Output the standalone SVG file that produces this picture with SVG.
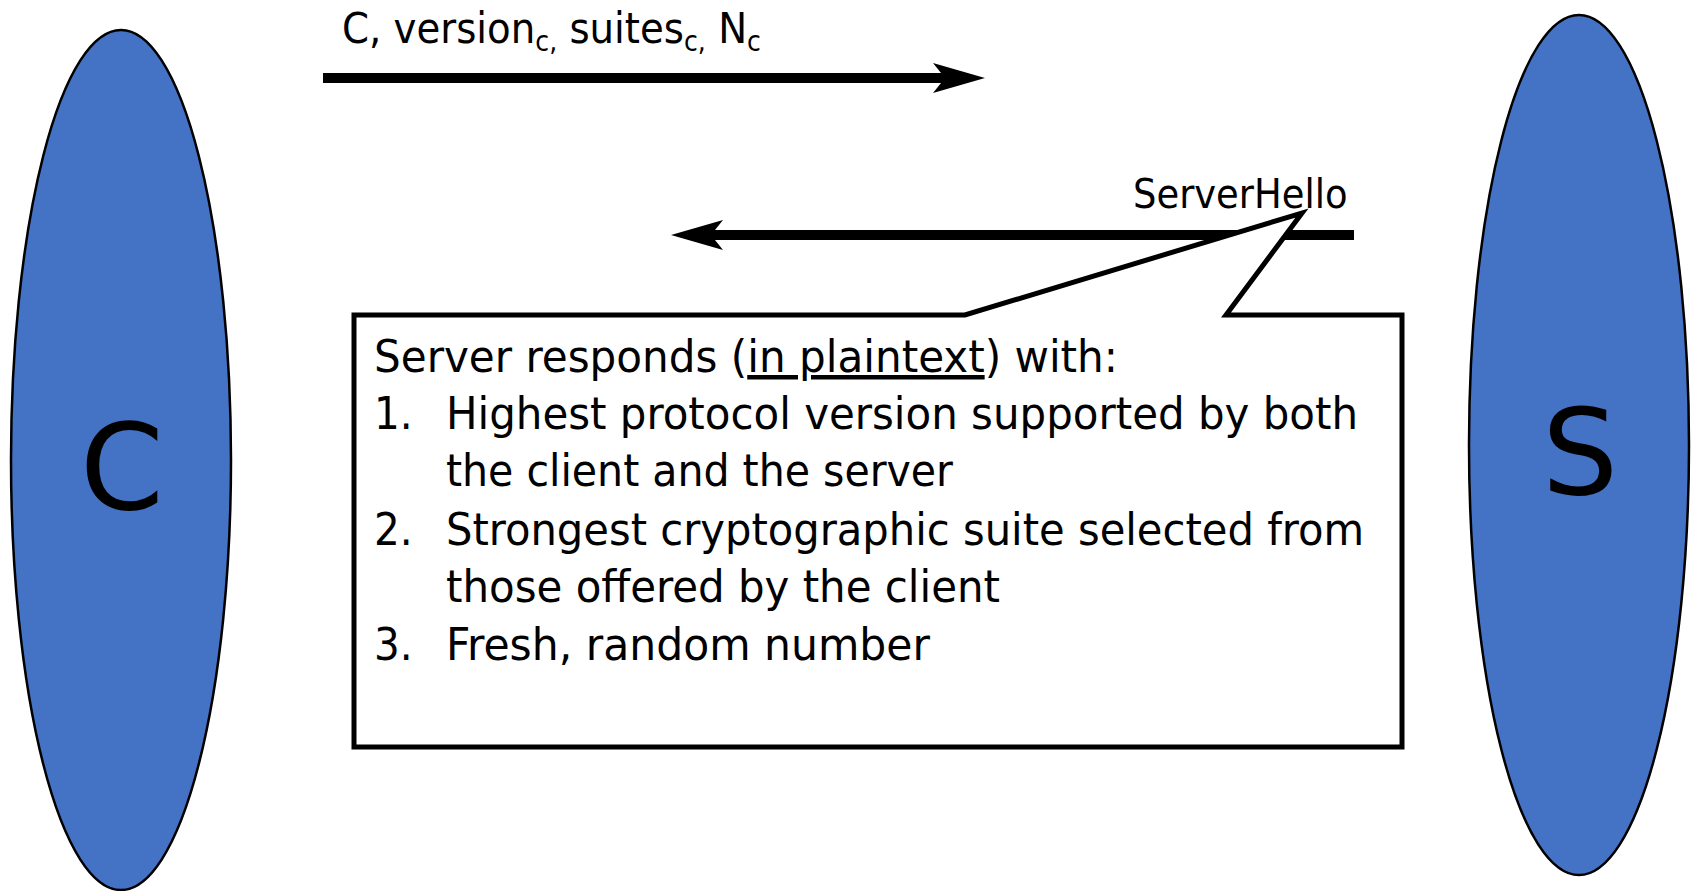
<svg xmlns="http://www.w3.org/2000/svg" width="1691" height="891" viewBox="0 0 1691 891">
  <style>
    .party { fill: #4472C4; stroke: #000; stroke-width: 2.5; }
    .party-label { font-family: "DejaVu Sans", "Liberation Sans", sans-serif; font-size: 120px; fill: #000; text-anchor: middle; }
    .msg { font-family: "DejaVu Sans", "Liberation Sans", sans-serif; font-stretch: condensed; font-size: 41px; fill: #000; }
    .msg-top { font-size: 43px; }
    .sub { font-size: 28px; }
    .flow { fill: none; stroke: #000; stroke-width: 10; }
    .callout { fill: #fff; stroke: #000; stroke-width: 5; stroke-linejoin: miter; }
    .note { font-family: "DejaVu Sans", "Liberation Sans", sans-serif; font-stretch: condensed; font-size: 45px; fill: #000; }
  </style>
  <defs>
    <marker id="head" viewBox="0 0 52 30" refX="16" refY="15" markerWidth="52" markerHeight="30" markerUnits="userSpaceOnUse" orient="auto">
      <path d="M0,0 L52,15 L0,30 L12,15 Z" fill="#000"/>
    </marker>
  </defs>

  <!-- client -->
  <g id="client">
    <ellipse class="party" cx="121" cy="460" rx="110" ry="430"/>
    <text class="party-label" x="122" y="509">C</text>
  </g>

  <!-- server -->
  <g id="server">
    <ellipse class="party" cx="1579" cy="445" rx="110" ry="430"/>
    <text class="party-label" x="1580" y="494">S</text>
  </g>

  <!-- messages -->
  <g id="connectors">
    <line class="flow" x1="323" y1="78" x2="949" y2="78" marker-end="url(#head)"/>
    <line class="flow" x1="1354" y1="235" x2="707" y2="235" marker-end="url(#head)"/>
  </g>

  <g id="client-hello-label">
    <text class="msg msg-top" x="342" y="43">C, version<tspan class="sub" dy="8">c,</tspan><tspan dy="-8"> suites</tspan><tspan class="sub" dy="8">c,</tspan><tspan dy="-8"> N</tspan><tspan class="sub" dy="8">c</tspan></text>
  </g>

  <g id="server-hello-label">
    <text class="msg" x="1133" y="208">ServerHello</text>
  </g>

  <!-- callout describing the ServerHello contents -->
  <g id="server-hello-note">
    <path class="callout" d="M354,315 L965,315 L1302,213 L1226,315 L1402,315 L1402,747 L354,747 Z"/>
    <text class="note" x="374" y="372" textLength="744" lengthAdjust="spacingAndGlyphs">Server responds (<tspan text-decoration="underline">in plaintext</tspan>) with:</text>
    <text class="note" x="374" y="429">1.</text>
    <text class="note" x="446" y="429" textLength="912" lengthAdjust="spacingAndGlyphs">Highest protocol version supported by both</text>
    <text class="note" x="446" y="486" textLength="507" lengthAdjust="spacingAndGlyphs">the client and the server</text>
    <text class="note" x="374" y="545">2.</text>
    <text class="note" x="446" y="545" textLength="918" lengthAdjust="spacingAndGlyphs">Strongest cryptographic suite selected from</text>
    <text class="note" x="446" y="602" textLength="554" lengthAdjust="spacingAndGlyphs">those offered by the client</text>
    <text class="note" x="374" y="660">3.</text>
    <text class="note" x="446" y="660" textLength="484" lengthAdjust="spacingAndGlyphs">Fresh, random number</text>
  </g>
</svg>
